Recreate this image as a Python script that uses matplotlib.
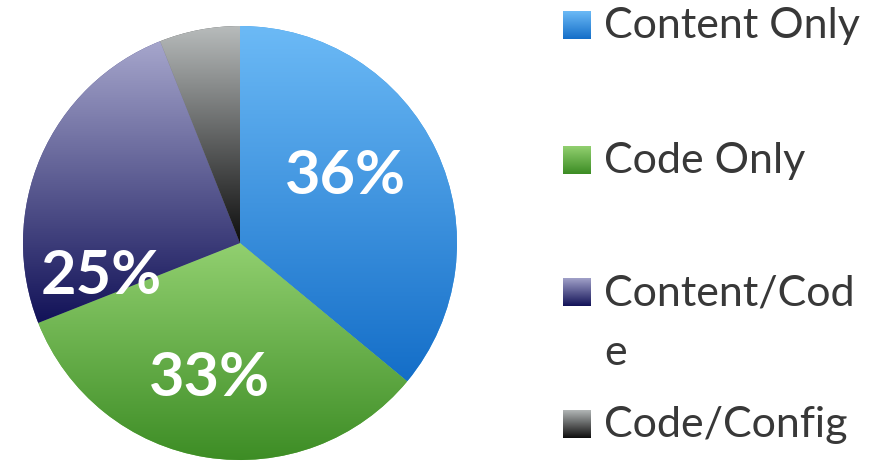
import numpy as np
import matplotlib
matplotlib.use("Agg")
import matplotlib.pyplot as plt
from matplotlib.colors import LinearSegmentedColormap

categories = ["Content Only", "Code Only", "Content/Code", "Code/Config"]
legend_labels = ["Content Only", "Code Only", "Content/Cod\ne", "Code/Config"]
values = [36, 33, 25, 6]
pct_labels = ["36%", "33%", "25%", ""]

top_colors = ["#6cbaf6", "#92d070", "#a6a6cc", "#b8bcbc"]
bot_colors = ["#146ec8", "#3c8c24", "#121258", "#0e0e0e"]
mid_colors = ["#3a98e4", "#66b046", "#50508c", "#5a5c5c"]

W, H = 881, 465
fig = plt.figure(figsize=(W / 100, H / 100), dpi=100)
fig.patch.set_facecolor("white")

cx, cy, r = 240, 243, 217
ax = fig.add_axes([(cx - r) / W, (H - cy - r) / H, 2 * r / W, 2 * r / H])
wedges, _ = ax.pie(values, startangle=90, counterclock=False, colors=mid_colors,
                   radius=1.0, wedgeprops=dict(linewidth=0))
ax.set_aspect("equal")
ax.axis("off")

grad = np.linspace(1, 0, 256).reshape(-1, 1)
for w, tc, bc in zip(wedges, top_colors, bot_colors):
    v = w.get_path().vertices
    ymin, ymax = v[:, 1].min(), v[:, 1].max()
    cmap = LinearSegmentedColormap.from_list("g", [bc, tc])
    im = ax.imshow(grad, extent=[-1, 1, ymin, ymax], cmap=cmap, aspect="auto",
                   origin="upper", zorder=2, interpolation="bilinear")
    im.set_clip_path(w)
ax.set_xlim(-1, 1)
ax.set_ylim(-1, 1)

label_pos = [(0.485, 0.31), (-0.14, -0.62), (-0.64, -0.15)]
for (x, y), t in zip(label_pos, pct_labels):
    ax.text(x, y, t, color="white", fontsize=44, fontweight="bold", family="Lato",
            ha="center", va="center", zorder=5)

# legend
sq = 28
sq_x = 563
row_y = [25, 160, 292, 424]
line_pitch = 60
for i, (lab, tc, bc) in enumerate(zip(legend_labels, top_colors, bot_colors)):
    yc = row_y[i]
    lax = fig.add_axes([sq_x / W, (H - yc - sq / 2) / H, sq / W, sq / H])
    cmap = LinearSegmentedColormap.from_list("g", [bc, tc])
    lax.imshow(grad, cmap=cmap, aspect="auto", extent=[0, 1, 0, 1])
    lax.axis("off")
    for j, line in enumerate(lab.split("\n")):
        fig.text(604 / W, (H - yc - 13 - j * line_pitch) / H, line, fontsize=31,
                 family="Lato", color="#383838", ha="left", va="baseline")

fig.savefig("out.png", dpi=100, facecolor="white")
